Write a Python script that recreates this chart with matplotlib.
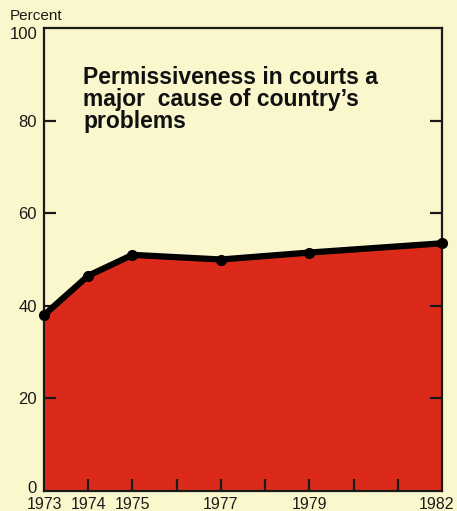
import matplotlib.pyplot as plt
import matplotlib.transforms as mtransforms
import numpy as np

# values
years = [1973, 1974, 1975, 1977, 1979, 1982]
percent = [38, 46.5, 51, 50, 51.5, 53.5]
y_ticks = [0, 20, 40, 60, 80, 100]
x_ticks = list(range(1973, 1983))
x_labels = ['1973', '1974', '1975', '', '1977', '', '1979', '', '', '1982']
title = "Permissiveness in courts a\nmajor  cause of country\u2019s\nproblems"

bg = '#faf7cc'
red = '#dc2a1a'

plt.rcParams['font.family'] = ['Liberation Sans', 'DejaVu Sans']

fig = plt.figure(figsize=(4.57, 5.11), dpi=100, facecolor=bg)
ax = fig.add_axes([44 / 457, 20 / 511, 398 / 457, 463 / 511])
ax.set_facecolor(bg)

ax.fill_between(years, percent, 0, color=red, linewidth=0)
ax.plot(years, percent, color='black', linewidth=4.5, solid_capstyle='butt',
        marker='o', markersize=7, markerfacecolor='black',
        markeredgecolor='black', clip_on=False, zorder=3)

ax.set_xlim(1973, 1982)
ax.set_ylim(0, 100)
ax.set_xticks(x_ticks)
ax.set_xticklabels(x_labels)
ax.set_yticks(y_ticks)
ax.set_yticklabels([str(v) for v in y_ticks])

for s in ax.spines.values():
    s.set_linewidth(1.6)
    s.set_color('#1a1a1a')

ax.tick_params(axis='both', direction='in', length=8.5, width=1.6,
               labelsize=12, color='#1a1a1a', labelcolor='#1a1a1a')
ax.tick_params(axis='y', pad=5, right=True)
ax.tick_params(axis='x', pad=4, labelsize=11.5)
# no tick marks at 0 and 100, only labels
yt = ax.yaxis.get_major_ticks()
xt = ax.xaxis.get_major_ticks()
for t in (yt[0], yt[-1]):
    t.tick1line.set_visible(False)
    t.tick2line.set_visible(False)
for t in (xt[0], xt[-1]):
    t.tick1line.set_visible(False)

# small nudges of the edge labels, as in the original
def nudge(lbl, dx, dy):
    lbl.set_transform(lbl.get_transform() +
                      mtransforms.ScaledTranslation(dx / 100, dy / 100, fig.dpi_scale_trans))

nudge(ax.get_yticklabels()[-1], 0, -5)
nudge(ax.get_yticklabels()[0], 0, 4)
nudge(ax.get_xticklabels()[-1], -6, 0)

ax.text(0.098, 0.918, title, transform=ax.transAxes, ha='left', va='top',
        fontsize=16.5, fontweight='bold', color='#111111', linespacing=0.95)

fig.text(10 / 457, 1 - 9 / 511, 'Percent', ha='left', va='top',
         fontsize=11, color='#1a1a1a')

fig.savefig('out.png', dpi=100, facecolor=bg)
